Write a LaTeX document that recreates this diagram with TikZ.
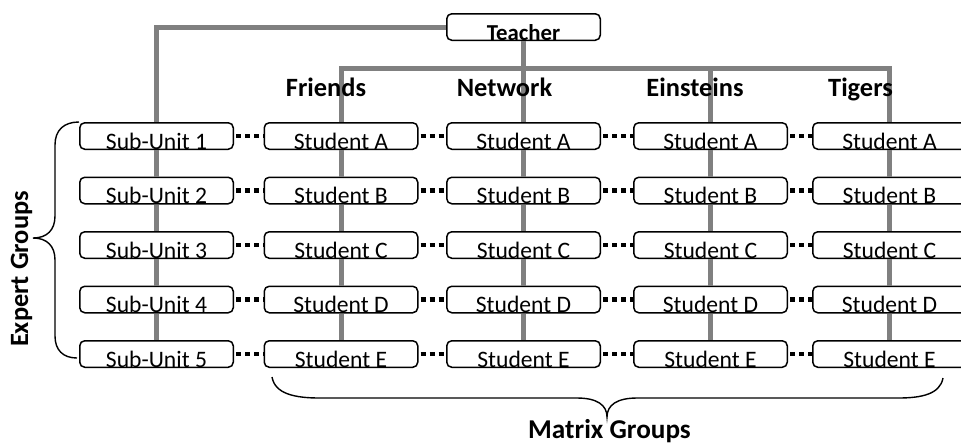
\documentclass[tikz,border=0pt]{standalone}
\usepackage{fontspec}
\setmainfont{Carlito}

\begin{document}
\begin{tikzpicture}[x = 0.5 pt, y = -0.5 pt,
	box/.style = {draw, fill = white, line width = 0.75 pt, rounded corners = 2.5 pt, minimum width = 76.75 pt, inner xsep = 0 pt, inner ysep = 0 pt, text height = 13.25 pt, text depth = 0 pt, font = \fontsize{11.8}{12}\selectfont},
	wire/.style = {line width = 2.5 pt, gray},
	dots/.style = {line width = 2.25 pt, dash pattern = on 2.5 pt off 2 pt, dash phase = 3.5 pt},
	group/.style = {anchor = base, font = \fontsize{13.2}{14}\bfseries\selectfont},
	brace/.style = {line width = 0.7 pt}]

	% Definitions

	\def\Y{54.5}	% Row distance
	\def\T{136}	% First row

	\useasboundingbox (0, 0) rectangle (961, 446);

	% Teacher

	\node [box, font = \fontsize{11.4}{12}\bfseries\selectfont] (teacher) at (523.5, 27) {Teacher};

	% Sub-units

	\node [box] (sub1) at (156.5, \T) {Sub-Unit 1};
	\node [box] (sub2) at (156.5, \T + \Y) {Sub-Unit 2};
	\node [box] (sub3) at (156.5, \T + 2 * \Y) {Sub-Unit 3};
	\node [box] (sub4) at (156.5, \T + 3 * \Y) {Sub-Unit 4};
	\node [box] (sub5) at (156.5, \T + 4 * \Y) {Sub-Unit 5};

	% Friends

	\node [box] (fA) at (341, \T) {Student A};
	\node [box] (fB) at (341, \T + \Y) {Student B};
	\node [box] (fC) at (341, \T + 2 * \Y) {Student C};
	\node [box] (fD) at (341, \T + 3 * \Y) {Student D};
	\node [box] (fE) at (341, \T + 4 * \Y) {Student E};

	% Network

	\node [box] (nA) at (523.5, \T) {Student A};
	\node [box] (nB) at (523.5, \T + \Y) {Student B};
	\node [box] (nC) at (523.5, \T + 2 * \Y) {Student C};
	\node [box] (nD) at (523.5, \T + 3 * \Y) {Student D};
	\node [box] (nE) at (523.5, \T + 4 * \Y) {Student E};

	% Einsteins

	\node [box] (eA) at (710.5, \T) {Student A};
	\node [box] (eB) at (710.5, \T + \Y) {Student B};
	\node [box] (eC) at (710.5, \T + 2 * \Y) {Student C};
	\node [box] (eD) at (710.5, \T + 3 * \Y) {Student D};
	\node [box] (eE) at (710.5, \T + 4 * \Y) {Student E};

	% Tigers

	\node [box] (tA) at (889.5, \T) {Student A};
	\node [box] (tB) at (889.5, \T + \Y) {Student B};
	\node [box] (tC) at (889.5, \T + 2 * \Y) {Student C};
	\node [box] (tD) at (889.5, \T + 3 * \Y) {Student D};
	\node [box] (tE) at (889.5, \T + 4 * \Y) {Student E};

	% Lines from the teacher

	\coordinate (bar) at (523.5, 68);
	\draw [wire] (teacher.west) -| (sub1.north);
	\draw [wire] (teacher.south) -- (nA.north);
	\draw [wire] (fA.north) |- (bar) -| (tA.north);
	\draw [wire] (bar) -| (eA.north);

	% Lines down the columns

	\draw [wire] (sub1) -- (sub2) (sub2) -- (sub3) (sub3) -- (sub4) (sub4) -- (sub5);
	\draw [wire] (fA) -- (fB) (fB) -- (fC) (fC) -- (fD) (fD) -- (fE);
	\draw [wire] (nA) -- (nB) (nB) -- (nC) (nC) -- (nD) (nD) -- (nE);
	\draw [wire] (eA) -- (eB) (eB) -- (eC) (eC) -- (eD) (eD) -- (eE);
	\draw [wire] (tA) -- (tB) (tB) -- (tC) (tC) -- (tD) (tD) -- (tE);

	% Dotted lines along the rows

	\draw [dots] (sub1) -- (fA) (fA) -- (nA) (nA) -- (eA) (eA) -- (tA);
	\draw [dots] (sub2) -- (fB) (fB) -- (nB) (nB) -- (eB) (eB) -- (tB);
	\draw [dots] (sub3) -- (fC) (fC) -- (nC) (nC) -- (eC) (eC) -- (tC);
	\draw [dots] (sub4) -- (fD) (fD) -- (nD) (nD) -- (eD) (eD) -- (tD);
	\draw [dots] (sub5) -- (fE) (fE) -- (nE) (nE) -- (eE) (eE) -- (tE);

	% Group names

	\node [group] (friends) at (326, 96) {Friends};
	\node [group] (network) at (504.5, 96) {Network};
	\node [group] (einsteins) at (695, 96) {Einsteins};
	\node [group] (tigers) at (860.5, 96) {Tigers};

	% Braces

	\draw [brace] (79, 122) .. controls (64, 122) and (55, 130) .. (55, 145) -- (55, 216) .. controls (55, 230) and (47, 238) .. (33, 238) .. controls (47, 238) and (55, 246) .. (55, 260) -- (55, 336) .. controls (55, 350) and (63, 358) .. (77, 358);
	\node [group, rotate = 90] (expert) at (28, 269) {Expert Groups};

	\draw [brace] (272, 377) .. controls (275, 394) and (295, 398) .. (320, 398) -- (577, 398) .. controls (597, 398) and (607, 405) .. (607, 417) .. controls (607, 405) and (617, 398) .. (637, 398) -- (898, 398) .. controls (922, 398) and (940, 394) .. (943, 378);
	\node [group, font = \fontsize{13.6}{14}\bfseries\selectfont] (matrix) at (609.5, 438) {Matrix Groups};

\end{tikzpicture}
\end{document}
